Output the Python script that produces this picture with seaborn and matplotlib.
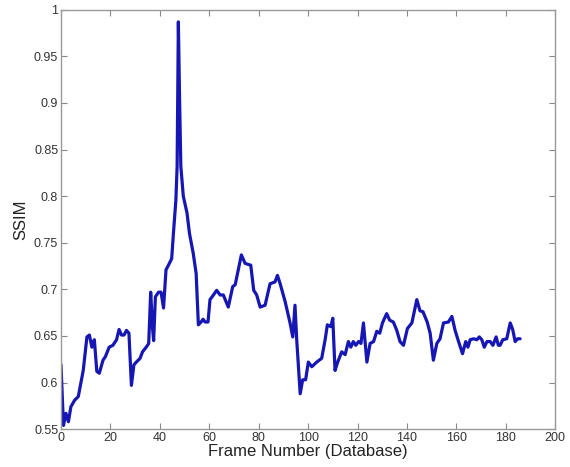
import matplotlib
matplotlib.use("Agg")
import matplotlib.pyplot as plt
import seaborn as sns
import pandas as pd

frame = [0, 1, 2, 3, 4, 5.5, 7, 9, 10.5, 11.5, 12.5, 13.5, 14.5, 15.5, 17, 18, 19.5, 21, 22.5, 23.5,
         24.5, 25.5, 26.5, 27.5, 28.5, 29.5, 30.5, 32, 33, 34.5, 35.5, 36.3, 37, 37.5, 38.2, 39.5, 40.5,
         41.5, 42.5, 43.5, 44.8, 45.5, 46.5, 47, 47.5, 48, 48.5, 49.5, 51, 52, 53.5, 54.7, 55.6, 56.7,
         57.5, 58.3, 59.5, 60.3, 61.7, 63, 64.4, 65.7, 67.7, 69.5, 70.5, 73, 74.5, 75.5, 76.8, 78, 79.2,
         80.6, 82.6, 84.6, 86.6, 87.6, 88.7, 90.7, 92.7, 93.8, 94.7, 95.4, 96.8, 97.8, 99, 100.1, 101.5,
         103.5, 105.5, 106.9, 107.8, 109.2, 110, 110.9, 112, 113.6, 115, 116.3, 117.3, 118.3, 119.3,
         120.4, 121.4, 122.4, 123.8, 125.1, 126.5, 127.8, 129, 130.1, 131.8, 133, 134.5, 135.9, 137.2,
         138.6, 140.2, 142, 144, 145.3, 146.5, 148.2, 149.4, 150.7, 152.1, 153.4, 154.8, 156.8, 158.2,
         159.5, 160.9, 162.5, 163.8, 164.7, 165.6, 167, 168.3, 169.3, 170.3, 171.3, 172.4, 173.7, 174.8,
         176.1, 177, 177.7, 178.8, 180.4, 181.8, 182.8, 183.8, 184.8, 185.8]
ssim = [0.619, 0.554, 0.567, 0.558, 0.574, 0.581, 0.585, 0.613, 0.649, 0.651, 0.638, 0.646, 0.612,
        0.610, 0.624, 0.628, 0.638, 0.640, 0.646, 0.657, 0.651, 0.651, 0.656, 0.653, 0.597, 0.619,
        0.622, 0.626, 0.633, 0.638, 0.642, 0.697, 0.660, 0.645, 0.692, 0.697, 0.697, 0.680, 0.721,
        0.726, 0.733, 0.760, 0.796, 0.832, 0.987, 0.903, 0.832, 0.800, 0.782, 0.760, 0.739, 0.717,
        0.662, 0.665, 0.668, 0.665, 0.665, 0.689, 0.694, 0.699, 0.694, 0.694, 0.681, 0.703, 0.705,
        0.737, 0.728, 0.727, 0.726, 0.699, 0.694, 0.681, 0.683, 0.706, 0.708, 0.715, 0.706, 0.687,
        0.664, 0.649, 0.683, 0.646, 0.588, 0.603, 0.603, 0.622, 0.617, 0.622, 0.626, 0.646, 0.662,
        0.660, 0.669, 0.613, 0.622, 0.633, 0.630, 0.644, 0.638, 0.644, 0.640, 0.644, 0.642, 0.664,
        0.622, 0.642, 0.644, 0.655, 0.653, 0.664, 0.674, 0.667, 0.665, 0.656, 0.644, 0.640, 0.658,
        0.664, 0.689, 0.677, 0.676, 0.665, 0.653, 0.624, 0.642, 0.647, 0.664, 0.665, 0.671, 0.656,
        0.644, 0.631, 0.644, 0.638, 0.646, 0.647, 0.646, 0.649, 0.646, 0.638, 0.644, 0.644, 0.640,
        0.649, 0.640, 0.640, 0.646, 0.647, 0.664, 0.657, 0.644, 0.647, 0.647]

x_ticks = [0, 20, 40, 60, 80, 100, 120, 140, 160, 180, 200]
y_ticks = [0.55, 0.6, 0.65, 0.7, 0.75, 0.8, 0.85, 0.9, 0.95, 1.0]
y_tick_labels = ["0.55", "0.6", "0.65", "0.7", "0.75", "0.8", "0.85", "0.9", "0.95", "1"]

sns.set_style("white")
plt.rcParams["font.family"] = ["Liberation Sans", "DejaVu Sans"]

df = pd.DataFrame({"frame": frame, "ssim": ssim})

fig = plt.figure(figsize=(5.7, 4.67), dpi=100)
ax = fig.add_axes([0.107, 0.081, 0.867, 0.898])
sns.lineplot(data=df, x="frame", y="ssim", sort=False, estimator=None,
             color="#1616b4", linewidth=2.3, ax=ax)

ax.set_xlim(0, 200)
ax.set_ylim(0.55, 1.0)
ax.set_xticks(x_ticks)
ax.set_xticklabels([str(t) for t in x_ticks])
ax.set_yticks(y_ticks)
ax.set_yticklabels(y_tick_labels)
ax.tick_params(direction="in", length=4, width=0.8, color="#888888",
               labelsize=9, labelcolor="#333333", top=True, right=True,
               bottom=True, left=True, pad=2)
for s in ax.spines.values():
    s.set_visible(True)
    s.set_color("#999999")
    s.set_linewidth(1.0)
ax.set_xlabel("Frame Number (Database)", fontsize=12, color="#222222", labelpad=0)
ax.set_ylabel("SSIM", fontsize=12, color="#222222", labelpad=4)

fig.savefig("out.png", dpi=100, facecolor="white")
